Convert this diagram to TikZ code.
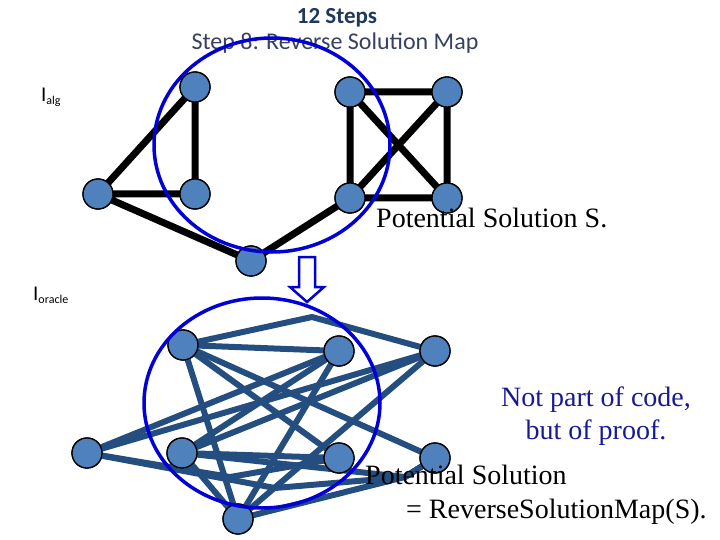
\documentclass[tikz,border=0pt]{standalone}
\usepackage{fontspec}
\setmainfont{Liberation Serif}
\newfontfamily\calib{Carlito}
\definecolor{nodeblue}{RGB}{79,129,189}
\definecolor{edgeblue}{RGB}{37,78,128}
\definecolor{ringblue}{RGB}{0,0,215}
\definecolor{notecol}{RGB}{25,25,150}
\definecolor{titlecol}{RGB}{31,56,92}
\definecolor{subcol}{RGB}{55,65,95}
\tikzset{
  vtx/.style={circle, draw=black, line width=1.3pt, fill=nodeblue, minimum size=30pt, inner sep=0pt},
  upedge/.style={line width=7pt, black},
  loedge/.style={line width=6pt, draw=edgeblue, line join=round},
  ring/.style={draw=ringblue, line width=3.5pt},
  bigarrow/.style={draw=ringblue, line width=2.5pt, fill=white, line join=miter},
  serif/.style={font=\fontsize{28}{32}\selectfont, inner sep=0pt},
}
\begin{document}
\begin{tikzpicture}[x=1pt,y=-1pt]
\useasboundingbox (0,0) rectangle (720,540);
% titles
\node[anchor=base, inner sep=0pt, text=titlecol, font=\calib\bfseries\fontsize{23}{26}\selectfont] (t1) at (337,24) {12 Steps};
\node[anchor=base, inner sep=0pt, text=subcol, font=\calib\fontsize{24}{28}\selectfont] (t2) at (335,50) {Step 8: Reverse Solution Map};
\node[anchor=base west, inner sep=0pt, font=\calib\fontsize{21}{24}\selectfont] (ialg) at (41,102) {I\raisebox{-3pt}{\fontsize{12}{12}\selectfont alg}};
\node[anchor=base west, inner sep=0pt, font=\calib\fontsize{21}{24}\selectfont] (iorc) at (33,300) {I\raisebox{-3pt}{\fontsize{12}{12}\selectfont oracle}};

% upper graph nodes
\node[vtx] (u1) at (195,87) {};
\node[vtx] (u2) at (98,194) {};
\node[vtx] (u3) at (195,194) {};
\node[vtx] (u4) at (251,261) {};
\node[vtx] (u5) at (350,92) {};
\node[vtx] (u6) at (447,92) {};
\node[vtx] (u7) at (350,198) {};
\node[vtx] (u8) at (447,198) {};

% lower graph nodes
\node[vtx] (A) at (183,345) {};
\node[vtx] (B) at (339,351) {};
\node[vtx] (C) at (435,351) {};
\node[vtx] (D) at (87,453) {};
\node[vtx] (E) at (182,453) {};
\node[vtx] (F) at (339,458) {};
\node[vtx] (H) at (435,458) {};
\node[vtx] (G) at (238,519) {};
\coordinate (bAC) at (312,317);
\coordinate (bDF) at (230,477);
\coordinate (bDH) at (275,488);
\coordinate (bH) at (405,477);

% upper edges
\draw[upedge] (u1.center) -- (u2.center) (u1.center) -- (u3.center) (u2.center) -- (u3.center)
  (u2.center) -- (u4.center) (u4.center) -- (u7.center)
  (u5.center) -- (u6.center) (u5.center) -- (u7.center) (u6.center) -- (u8.center) (u7.center) -- (u8.center)
  (u5.center) -- (u8.center) (u6.center) -- (u7.center);

% lower edges
\draw[loedge] (A.center) -- (B.center);
\draw[loedge] (A.center) -- (bAC) -- (C.center);
\draw[loedge] (A.center) -- (F.center);
\draw[loedge] (A.center) -- (H.center);
\draw[loedge] (A.center) -- (G.center);
\draw[loedge] (D.center) -- (B.center);
\draw[loedge] (D.center) -- (C.center);
\draw[loedge] (D.center) -- (bDF) -- (F.center);
\draw[loedge] (D.center) -- (bDH) -- (bH) -- (H.center);
\draw[loedge] (E.center) -- (B.center);
\draw[loedge] (E.center) -- (C.center);
\draw[loedge] (E.center) -- (F.center);
\draw[loedge] (E.center) -- (bH) -- (H.center);
\draw[loedge] (E.center) -- (G.center);
\draw[loedge] (G.center) -- (B.center);
\draw[loedge] (G.center) -- (C.center);
\draw[loedge] (G.center) -- (bH) -- (H.center);

% redraw nodes on top of the edges
\foreach \n in {u1,u2,u3,u4,u5,u6,u7,u8,A,B,C,D,E,F,H,G}
  \node[vtx] at (\n.center) {};

% rings
\draw[ring] (272,145) ellipse [x radius=118, y radius=107];
\draw[ring] (262,403) ellipse [x radius=118, y radius=105];

% block arrow
\draw[bigarrow] (299,257) -- (315,257) -- (315,287) -- (324,287) -- (307,302) -- (290,287) -- (299,287) -- cycle;

% texts
\node[serif, anchor=base west] (ps) at (376,228) {Potential Solution S.};
\node[serif, anchor=base, text=notecol] (n1) at (596,406) {Not part of code,};
\node[serif, anchor=base, text=notecol] (n2) at (596,439) {but of proof.};
\node[serif, anchor=base west] (p1) at (365,484) {Potential Solution};
\node[serif, anchor=base west] (p2) at (406,518) {= ReverseSolutionMap(S).};
\end{tikzpicture}
\end{document}
